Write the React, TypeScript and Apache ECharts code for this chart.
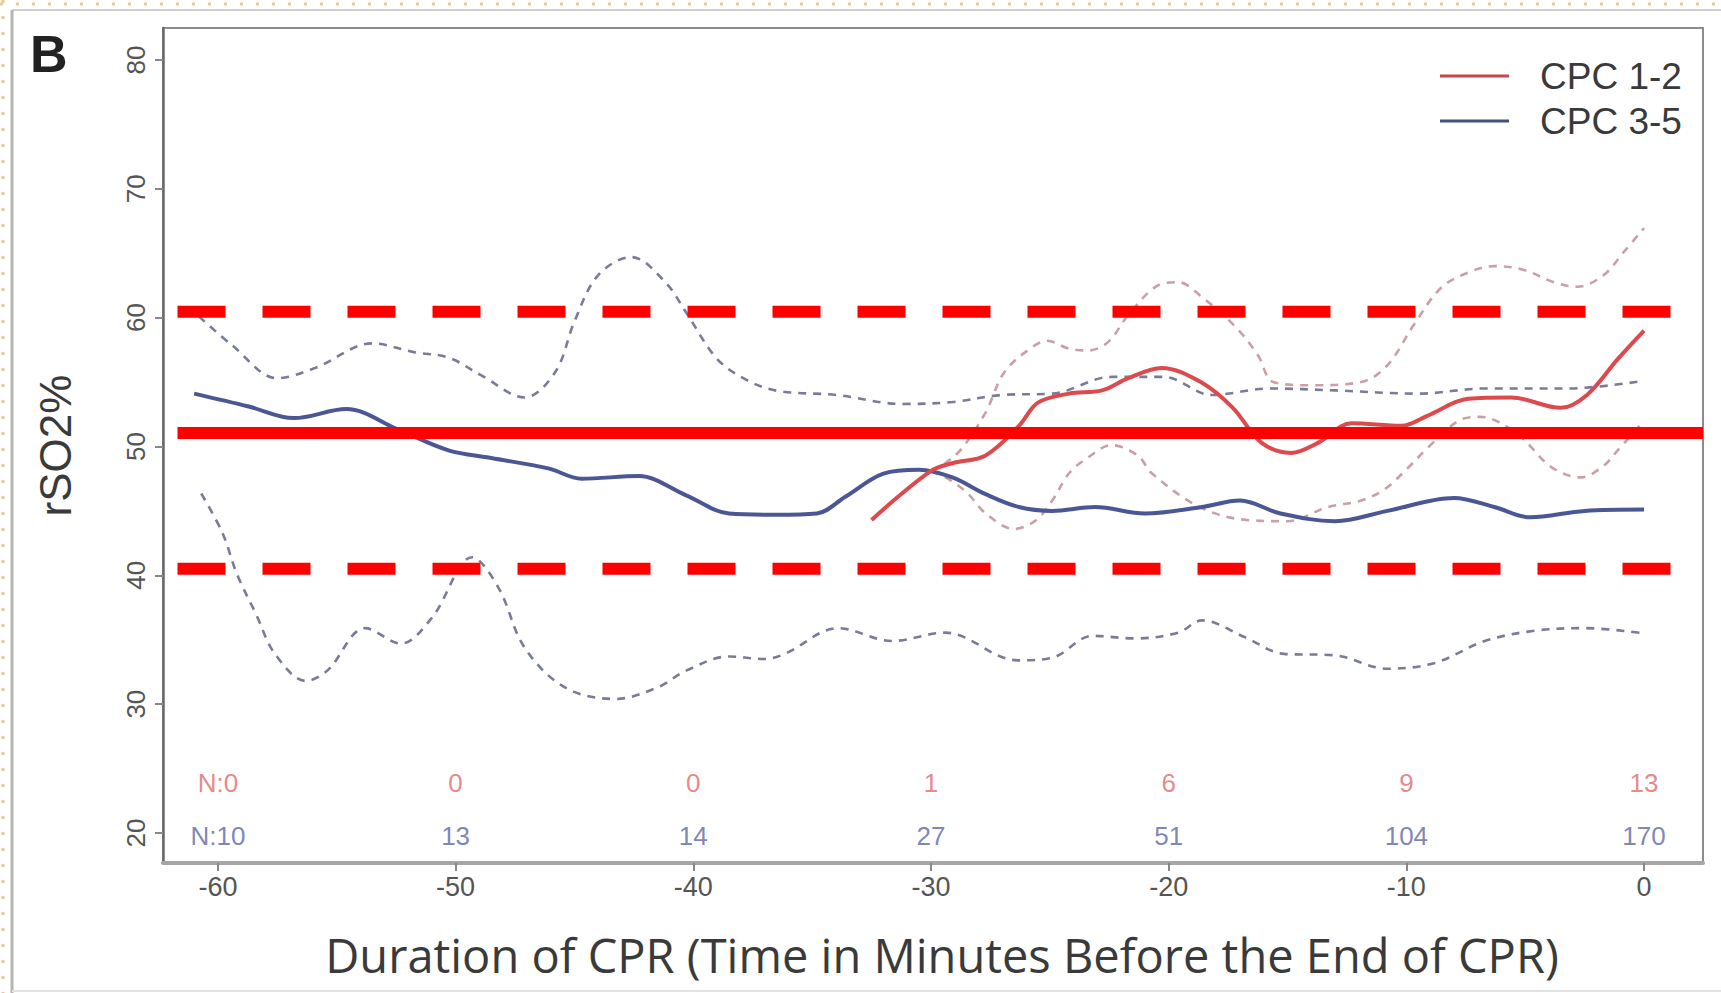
import React, { useEffect, useRef } from "react";
import * as echarts from "echarts";

// ---- data ----
const X_TICKS = [-60, -50, -40, -30, -20, -10, 0];
const Y_TICKS = [20, 30, 40, 50, 60, 70, 80];
const N_CPC12 = [0, 0, 0, 1, 6, 9, 13];
const N_CPC35 = [10, 13, 14, 27, 51, 104, 170];

const cpc35Mean: [number, number][] = [
  [-61, 54.1], [-58.7, 53.1], [-56.8, 52.2], [-54.6, 52.9], [-52.4, 51.3],
  [-50.3, 49.7], [-48.5, 49.1], [-46.1, 48.3], [-44.7, 47.5], [-42.3, 47.7],
  [-40.3, 46.2], [-38.5, 44.8], [-36.5, 44.7], [-34.8, 44.8], [-33.6, 46.1],
  [-32, 47.9], [-30.5, 48.2], [-29.1, 47.6], [-27.7, 46.3], [-26.3, 45.3],
  [-24.9, 45.0], [-23.1, 45.3], [-21, 44.8], [-18.6, 45.3], [-17, 45.8],
  [-15.3, 44.8], [-13, 44.2], [-10.8, 45.0], [-8, 46.0], [-6.3, 45.3],
  [-4.8, 44.5], [-2.5, 45.0], [0, 45.1],
];
const cpc35Upper: [number, number][] = [
  [-60.8, 60.1], [-59.4, 57.85], [-57.5, 55.3], [-55.9, 56.1], [-53.5, 58.0],
  [-51.7, 57.3], [-50.3, 56.9], [-48.9, 55.5], [-47.1, 53.8], [-45.8, 55.8],
  [-45.0, 59.7], [-44.0, 63.3], [-42.6, 64.7], [-41.2, 62.8], [-40.3, 60.4],
  [-39.0, 56.8], [-37.7, 55.1], [-36.4, 54.3], [-34.0, 54.0], [-31.2, 53.3],
  [-29.1, 53.45], [-27.0, 54.0], [-24.9, 54.1], [-22.4, 55.4], [-20.2, 55.4],
  [-18.2, 54.0], [-15.7, 54.5], [-13.0, 54.35], [-9.5, 54.1], [-6.7, 54.5],
  [-3.2, 54.5], [0, 55.1],
];
const cpc35Lower: [number, number][] = [
  [-60.7, 46.35], [-59.8, 43.25], [-59.2, 40.1], [-58.4, 37.0], [-57.6, 33.9],
  [-56.3, 31.8], [-55.4, 32.6], [-53.8, 35.9], [-52.3, 34.7], [-51.0, 36.7],
  [-49.3, 41.4], [-48.2, 39.05], [-47.1, 34.4], [-45.4, 31.3], [-43.3, 30.4],
  [-41.5, 31.3], [-40.3, 32.6], [-38.5, 33.7], [-37.0, 33.5], [-36.15, 33.9],
  [-33.9, 35.9], [-31.65, 34.9], [-29.4, 35.55], [-26.35, 33.4], [-24.9, 33.6],
  [-23.2, 35.3], [-21.4, 35.1], [-19.6, 35.55], [-18.6, 36.5], [-16.8, 35.2],
  [-15.15, 33.9], [-13.05, 33.8], [-10.8, 32.75], [-8.8, 33.2], [-6.7, 34.9],
  [-4.6, 35.7], [-2.5, 35.9], [0, 35.5],
];
const cpc12Mean: [number, number][] = [
  [-32.5, 44.3], [-30, 48.1], [-29.1, 48.7], [-27.7, 49.3], [-26.3, 51.6],
  [-25.5, 53.4], [-24.2, 54.1], [-22.8, 54.35], [-21.7, 55.3], [-20.3, 56.1],
  [-18.65, 55.0], [-17.3, 53.0], [-16.1, 50.3], [-14.85, 49.5], [-13.7, 50.3],
  [-12.3, 51.8], [-10.2, 51.6], [-9.1, 52.4], [-7.4, 53.7], [-5.6, 53.8],
  [-3.5, 53.0], [-2.4, 54.0], [-1.1, 56.8], [0, 59.0],
];
const cpc12Upper: [number, number][] = [
  [-30, 48.1], [-29.4, 48.7], [-28.7, 49.85], [-27.7, 52.65], [-26.9, 55.8],
  [-25.75, 57.7], [-25.1, 58.2], [-24.2, 57.6], [-23.4, 57.45], [-22.55, 58.1],
  [-21.7, 60.2], [-20.45, 62.5], [-19.6, 62.75], [-18.6, 61.6], [-17.25, 59.4],
  [-16.25, 57.1], [-15.6, 55.0], [-14.0, 54.75], [-11.9, 55.0], [-10.8, 56.3],
  [-9.7, 59.4], [-8.55, 62.3], [-7.4, 63.5], [-6.3, 64.0], [-5.05, 63.7],
  [-3.8, 62.75], [-2.8, 62.4], [-1.7, 63.3], [-0.85, 65.1], [0, 66.95],
];
const cpc12Lower: [number, number][] = [
  [-30, 48.1], [-29.2, 47.4], [-28.45, 46.35], [-27.7, 44.8], [-26.5, 43.6],
  [-25.6, 44.25], [-24.9, 45.8], [-24.2, 47.9], [-23.5, 49.0], [-22.4, 50.1],
  [-21.3, 49.3], [-20.7, 47.9], [-18.7, 45.3], [-16.75, 44.3], [-15.0, 44.2],
  [-13.3, 45.3], [-11.9, 45.8], [-10.9, 46.7], [-9.9, 48.4], [-9.1, 49.9],
  [-7.8, 52.0], [-6.9, 52.3], [-5.35, 51.0], [-3.9, 48.4], [-2.65, 47.6],
  [-1.7, 48.5], [-1.2, 49.5], [0, 52.0],
];

// hand-drawn red reference lines (values)
const REF_LEVELS = [60.45, 51.05, 40.5];
const REF_X_RANGE_DASHED = [-61.7, 1.13];
const REF_X_RANGE_SOLID = [-61.7, 2.48];

// N-row label heights in axis units
const N_ROW_Y = [23.85, 19.8];

const RED = "#dd4a4e";
const BLUE = "#4b5794";
const RED_CI = "#c9a0a6";
const BLUE_CI = "#787c96";

export default function App() {
  const ref = useRef<HTMLDivElement>(null);

  useEffect(() => {
    if (!ref.current) return;
    const chart = echarts.init(ref.current, undefined, { renderer: "svg" });

    const ciLine = (name: string, data: [number, number][], color: string) => ({
      type: "line",
      name,
      data,
      smooth: 0.35,
      showSymbol: false,
      silent: true,
      lineStyle: { color, width: 2.6, type: [8, 7] },
      z: 2,
    });
    const meanLine = (name: string, data: [number, number][], color: string) => ({
      type: "line",
      name,
      data,
      smooth: 0.35,
      showSymbol: false,
      silent: true,
      color,
      lineStyle: { color, width: 4 },
      z: 3,
    });
    const refLine = (level: number, range: number[], dashed: boolean) => ({
      type: "line",
      name: "ref",
      data: [[range[0], level], [range[1], level]],
      showSymbol: false,
      silent: true,
      lineStyle: { color: "#ff0000", width: 12, type: dashed ? [48, 37] : "solid", cap: "butt" },
      z: 5,
    });
    const nRow = (counts: number[], yVal: number, color: string, name: string) => ({
      type: "scatter",
      name,
      symbolSize: 0,
      silent: true,
      data: X_TICKS.map((x, i) => ({
        value: [x, yVal],
        label: { formatter: (i === 0 ? "N:" : "") + counts[i] },
      })),
      label: {
        show: true,
        position: "inside",
        color,
        fontFamily: "Liberation Sans",
        fontSize: 26,
      },
      z: 4,
    });

    const option: any = {
      animation: false,
      backgroundColor: "#ffffff",
      grid: {
        left: 163,
        top: 28,
        width: 1540,
        height: 835,
        show: true,
        borderColor: "#8c8c8c",
        borderWidth: 2,
      },
      legend: {
        data: [
          { name: "CPC 1-2", icon: "rect", itemStyle: { color: "#c8444a" } },
          { name: "CPC 3-5", icon: "rect", itemStyle: { color: "#46507a" } },
        ],
        orient: "vertical",
        left: 1435,
        top: 52,
        itemWidth: 69,
        itemHeight: 3,
        itemGap: 7,
        selectedMode: false,
        textStyle: {
          fontFamily: "Liberation Sans",
          fontSize: 37,
          color: "#3a3a3a",
          lineHeight: 38,
          padding: [0, 0, 0, 26],
        },
      },
      xAxis: {
        type: "value",
        min: -62.31,
        max: 2.48,
        name: "Duration of CPR (Time in Minutes Before the End of CPR)",
        nameLocation: "middle",
        nameGap: 68,
        nameTextStyle: {
          fontFamily: "Open Sans",
          fontSize: 47,
          color: "#3a3a3a",
          padding: [0, 0, 0, 18],
        },
        axisLine: { show: true, onZero: false, lineStyle: { color: "#a6a6a6", width: 4 } },
        axisTick: { show: true, customValues: X_TICKS, length: 8, lineStyle: { color: "#888", width: 2 } },
        axisLabel: {
          customValues: X_TICKS,
          fontFamily: "Liberation Sans",
          fontSize: 27,
          color: "#555",
          margin: 10,
        },
        splitLine: { show: false },
      },
      yAxis: {
        type: "value",
        min: 17.67,
        max: 82.48,
        name: "rSO2%",
        nameLocation: "middle",
        nameGap: 86,
        nameRotate: 90,
        nameTextStyle: { fontFamily: "Liberation Sans", fontSize: 44, color: "#3a3a3a" },
        axisLine: { show: true, onZero: false, lineStyle: { color: "#6a6a6a", width: 2.5 } },
        axisTick: { show: true, customValues: Y_TICKS, length: 8, lineStyle: { color: "#888", width: 2 } },
        axisLabel: {
          customValues: Y_TICKS,
          rotate: 90,
          fontFamily: "Liberation Sans",
          fontSize: 26,
          color: "#555",
          margin: 14,
        },
        splitLine: { show: false },
      },
      graphic: [
        { type: "line", shape: { x1: 0, y1: 4, x2: 1721, y2: 4 }, style: { stroke: "#f0c59c", lineWidth: 3, lineDash: [3, 13] }, silent: true },
        { type: "line", shape: { x1: 3, y1: 0, x2: 3, y2: 993 }, style: { stroke: "#f0c59c", lineWidth: 3, lineDash: [3, 13] }, silent: true },
        { type: "line", shape: { x1: 12, y1: 10, x2: 1721, y2: 10 }, style: { stroke: "#cfcfcf", lineWidth: 2 }, silent: true },
        { type: "line", shape: { x1: 12, y1: 10, x2: 12, y2: 993 }, style: { stroke: "#b5b5b5", lineWidth: 3 }, silent: true },
        { type: "line", shape: { x1: 12, y1: 991, x2: 1721, y2: 991 }, style: { stroke: "#e2e2e2", lineWidth: 2 }, silent: true },
        {
          type: "text",
          left: 30,
          top: 28,
          style: { text: "B", font: "bold 52px 'Liberation Sans'", fill: "#222" },
          silent: true,
        },
      ],
      series: [
        ciLine("CPC 3-5 upper", cpc35Upper, BLUE_CI),
        ciLine("CPC 3-5 lower", cpc35Lower, BLUE_CI),
        ciLine("CPC 1-2 upper", cpc12Upper, RED_CI),
        ciLine("CPC 1-2 lower", cpc12Lower, RED_CI),
        meanLine("CPC 3-5", cpc35Mean, BLUE),
        meanLine("CPC 1-2", cpc12Mean, RED),
        refLine(REF_LEVELS[0], REF_X_RANGE_DASHED, true),
        refLine(REF_LEVELS[1], REF_X_RANGE_SOLID, false),
        refLine(REF_LEVELS[2], REF_X_RANGE_DASHED, true),
        nRow(N_CPC12, N_ROW_Y[0], "#e06a6a", "N CPC 1-2"),
        nRow(N_CPC35, N_ROW_Y[1], "#5c66a6", "N CPC 3-5"),
      ],
    };
    chart.setOption(option);
    return () => chart.dispose();
  }, []);

  return (
    <div
      ref={ref}
      style={{ position: "fixed", left: 0, top: 0, width: 1721, height: 993, background: "#fff" }}
    />
  );
}
